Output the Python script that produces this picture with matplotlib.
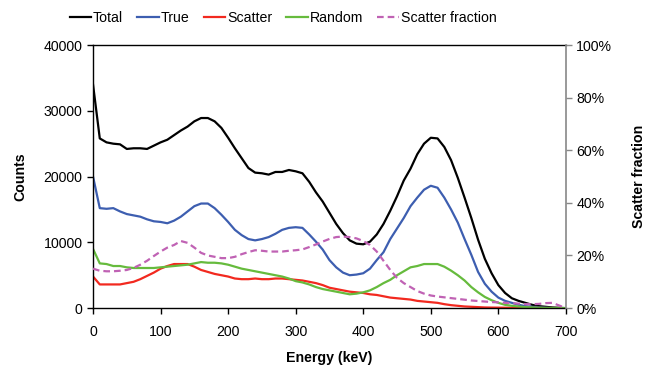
import numpy as np
import matplotlib.pyplot as plt
from matplotlib.ticker import FuncFormatter

plt.rcParams['font.family'] = ['Liberation Sans', 'DejaVu Sans']

# energy grid (keV)
energy = list(range(0, 710, 10))

total = [34000, 25800, 25200, 25000, 24900, 24200, 24300, 24300, 24200, 24700,
         25200, 25600, 26300, 27000, 27600, 28400, 28900, 28900, 28400, 27400,
         25900, 24300, 22800, 21300, 20600, 20500, 20300, 20700, 20700, 21000,
         20800, 20500, 19200, 17600, 16200, 14500, 12800, 11400, 10300, 9800,
         9700, 10100, 11200, 12800, 14800, 17000, 19400, 21200, 23400, 25000,
         25900, 25800, 24500, 22500, 19800, 16800, 13700, 10400, 7500, 5300,
         3500, 2300, 1500, 1100, 800, 500, 300, 200, 100, 50, 0]

true = [20000, 15200, 15100, 15200, 14700, 14300, 14100, 13900, 13500, 13200,
        13100, 12900, 13300, 13900, 14700, 15500, 15900, 15900, 15200, 14200,
        13100, 11900, 11100, 10500, 10300, 10500, 10800, 11300, 11900, 12200,
        12300, 12200, 11200, 10100, 8900, 7300, 6200, 5400, 5000, 5100,
        5300, 6000, 7300, 8500, 10500, 12100, 13700, 15500, 16800, 18000,
        18600, 18300, 16800, 15000, 13000, 10500, 8100, 5500, 3700, 2500,
        1600, 1100, 800, 500, 300, 200, 100, 50, 0, 0, 0]

scatter = [4800, 3600, 3600, 3600, 3600, 3800, 4000, 4400, 4900, 5400,
           6000, 6400, 6700, 6700, 6700, 6300, 5800, 5500, 5200, 5000,
           4800, 4500, 4400, 4400, 4500, 4400, 4400, 4500, 4500, 4400,
           4300, 4200, 4000, 3800, 3500, 3100, 2900, 2700, 2500, 2400,
           2300, 2100, 2000, 1800, 1600, 1500, 1400, 1300, 1100, 1000,
           900, 800, 600, 450, 350, 250, 200, 150, 100, 80,
           70, 60, 50, 40, 30, 20, 20, 10, 10, 0, 0]

random_ = [9000, 6800, 6700, 6400, 6400, 6200, 6100, 6100, 6100, 6100,
           6200, 6300, 6400, 6500, 6600, 6800, 7000, 6900, 6900, 6800,
           6600, 6300, 6000, 5800, 5600, 5400, 5200, 5000, 4800, 4500,
           4100, 3900, 3600, 3200, 2900, 2700, 2500, 2300, 2100, 2200,
           2400, 2700, 3200, 3800, 4300, 5000, 5600, 6200, 6400, 6700,
           6700, 6700, 6300, 5700, 5000, 4200, 3200, 2400, 1700, 1200,
           800, 500, 350, 250, 150, 100, 50, 30, 20, 10, 0]

# scatter fraction in percent
fraction = [15, 14.2, 14, 14, 14.2, 14.5, 15.3, 16.5, 18, 19.8,
            21.5, 23, 24, 25.5, 24.8, 23, 21, 20, 19.5, 19,
            19, 19.5, 20.5, 21.3, 22, 21.8, 21.5, 21.5, 21.5, 21.8,
            22, 22.3, 23.2, 24.2, 25.3, 26.3, 27, 27.2, 27, 26.5,
            25.5, 24, 21.5, 18, 14.5, 11.5, 9.5, 8, 6.5, 5.5,
            4.8, 4.4, 4.1, 3.8, 3.5, 3.2, 2.9, 2.7, 2.5, 2.3,
            2.2, 2, 1.9, 1.7, 1.5, 1.5, 1.6, 1.9, 2.0, 1.0, 0]

fs = 10.2

fig = plt.figure(figsize=(6.46, 3.69), dpi=100)
ax = fig.add_axes([0.144, 0.165, 0.732, 0.713])
ax2 = ax.twinx()

lw = 1.6
l1, = ax.plot(energy, total, color='black', lw=lw, label='Total')
l2, = ax.plot(energy, true, color='#3d5eb0', lw=lw, label='True')
l3, = ax.plot(energy, scatter, color='#f2291f', lw=lw, label='Scatter')
l4, = ax.plot(energy, random_, color='#66bb3d', lw=lw, label='Random')
l5, = ax2.plot(energy, np.array(fraction) / 100, color='#c062b4', lw=lw,
               ls=(0, (3, 1.8)), label='Scatter fraction')

ax.set_xlim(0, 700)
ax.set_ylim(0, 40000)
ax2.set_ylim(0, 1)
ax.set_xticks(range(0, 800, 100))
ax.set_yticks(range(0, 50000, 10000))
ax2.set_yticks(np.arange(0, 1.01, 0.2))
ax2.yaxis.set_major_formatter(FuncFormatter(lambda v, p: f'{v * 100:.0f}%'))

ax.tick_params(direction='out', length=4, labelsize=fs, width=1)
ax.tick_params(axis='x', pad=8)
ax2.tick_params(direction='out', length=4, labelsize=fs, width=1,
                color='#888888')

for s in ['left', 'bottom', 'top']:
    ax.spines[s].set_linewidth(1)
ax2.spines['right'].set_color('#888888')
ax2.spines['right'].set_linewidth(1.2)
for s in ['left', 'bottom', 'top']:
    ax2.spines[s].set_visible(False)
ax.spines['right'].set_visible(False)

ax.set_xlabel('Energy (keV)', fontsize=fs, fontweight='bold', labelpad=9)
ax.set_ylabel('Counts', fontsize=fs, fontweight='bold', labelpad=12)
ax2.set_ylabel('Scatter fraction', fontsize=fs, fontweight='bold', labelpad=14)

fig.legend(handles=[l1, l2, l3, l4, l5], loc='center left', ncol=5,
           bbox_to_anchor=(0.097, 0.951), frameon=False, fontsize=fs,
           borderpad=0, handlelength=1.5, handletextpad=0.15,
           columnspacing=1.0)

fig.savefig('out.png', dpi=100)
